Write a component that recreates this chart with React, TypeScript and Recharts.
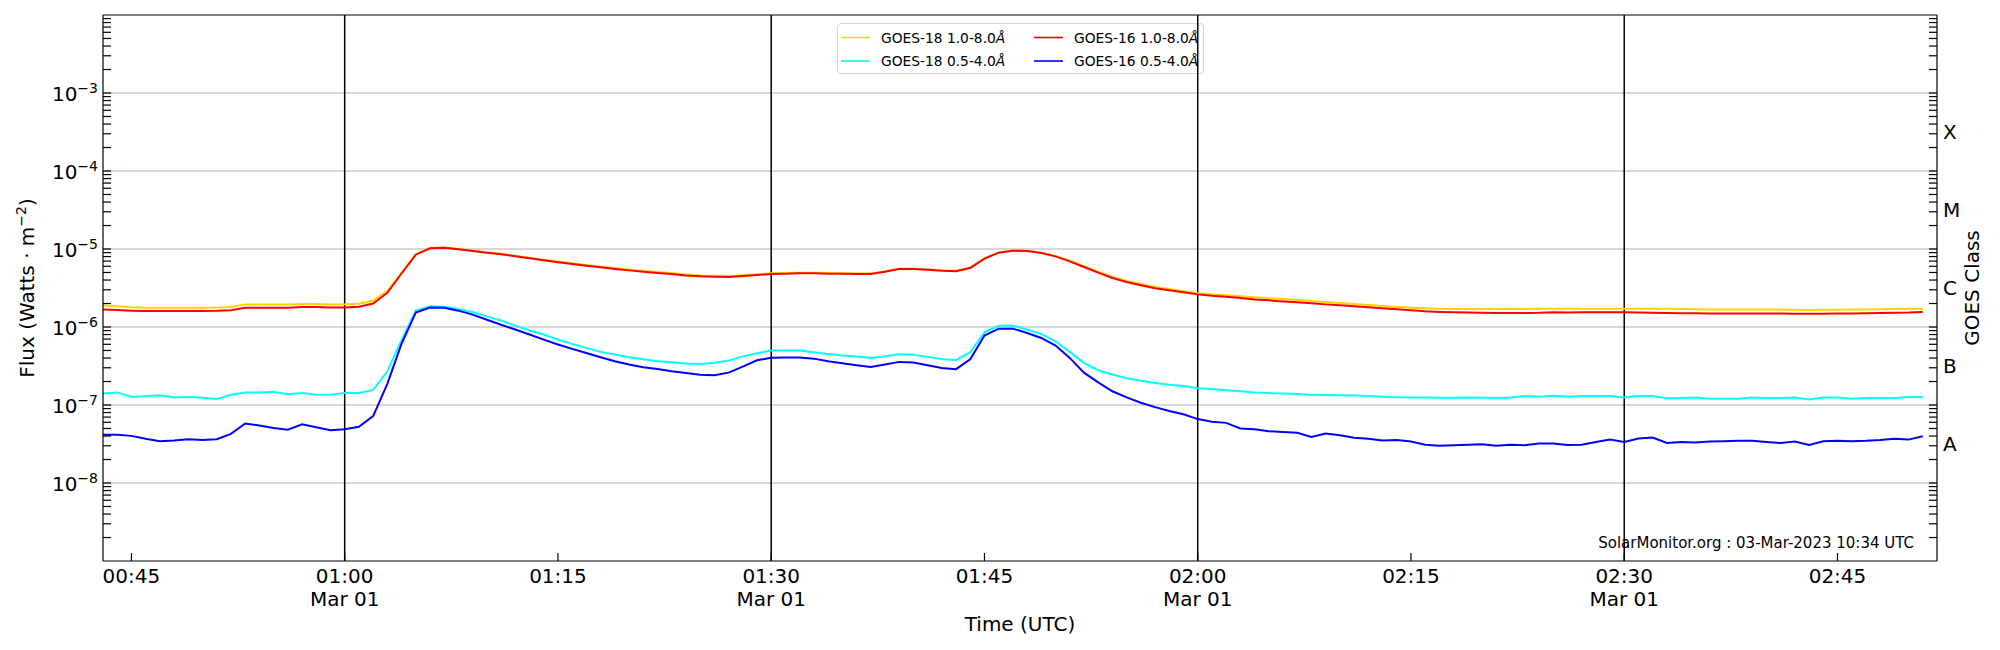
import React from 'react';
import { LineChart, Line, XAxis, YAxis, ReferenceLine, Legend } from 'recharts';

// one sample per minute, first sample at 00:43 UTC on Mar 01
const startMinute = 43;

const goes18Long = [
  1.88e-6, 1.85e-6, 1.79e-6, 1.77e-6, 1.77e-6, 1.77e-6, 1.77e-6, 1.77e-6, 1.78e-6, 1.81e-6,
  1.95e-6, 1.95e-6, 1.95e-6, 1.94e-6, 1.97e-6, 1.97e-6, 1.95e-6, 1.96e-6, 1.99e-6, 2.18e-6,
  2.9e-6, 4.95e-6, 8.55e-6, 1.03e-5, 1.05e-5, 1.0e-5, 9.55e-6, 9.1e-6, 8.7e-6, 8.2e-6,
  7.75e-6, 7.3e-6, 6.9e-6, 6.57e-6, 6.25e-6, 5.97e-6, 5.7e-6, 5.47e-6, 5.26e-6, 5.06e-6,
  4.91e-6, 4.72e-6, 4.58e-6, 4.53e-6, 4.5e-6, 4.6e-6, 4.74e-6, 4.88e-6, 4.93e-6, 4.97e-6,
  4.97e-6, 4.92e-6, 4.89e-6, 4.87e-6, 4.87e-6, 5.2e-6, 5.62e-6, 5.62e-6, 5.52e-6, 5.36e-6,
  5.26e-6, 5.8e-6, 7.6e-6, 9.05e-6, 9.6e-6, 9.5e-6, 8.98e-6, 8.17e-6, 7.08e-6, 6.02e-6,
  5.12e-6, 4.4e-6, 3.9e-6, 3.55e-6, 3.26e-6, 3.07e-6, 2.87e-6, 2.7e-6, 2.62e-6, 2.55e-6,
  2.47e-6, 2.4e-6, 2.33e-6, 2.29e-6, 2.22e-6, 2.16e-6, 2.09e-6, 2.03e-6, 1.97e-6, 1.91e-6,
  1.86e-6, 1.81e-6, 1.77e-6, 1.74e-6, 1.72e-6, 1.7e-6, 1.7e-6, 1.7e-6, 1.7e-6, 1.7e-6,
  1.7e-6, 1.71e-6, 1.71e-6, 1.72e-6, 1.72e-6, 1.72e-6, 1.72e-6, 1.72e-6, 1.72e-6, 1.72e-6,
  1.71e-6, 1.7e-6, 1.69e-6, 1.68e-6, 1.68e-6, 1.68e-6, 1.68e-6, 1.68e-6, 1.67e-6, 1.66e-6,
  1.65e-6, 1.66e-6, 1.67e-6, 1.68e-6, 1.68e-6, 1.69e-6, 1.7e-6, 1.71e-6, 1.72e-6,
];

const goes18Short = [
  1.4e-7, 1.45e-7, 1.27e-7, 1.3e-7, 1.33e-7, 1.25e-7, 1.27e-7, 1.24e-7, 1.19e-7, 1.35e-7,
  1.45e-7, 1.45e-7, 1.48e-7, 1.37e-7, 1.43e-7, 1.35e-7, 1.35e-7, 1.43e-7, 1.43e-7, 1.56e-7,
  2.7e-7, 6.8e-7, 1.62e-6, 1.85e-6, 1.82e-6, 1.7e-6, 1.55e-6, 1.37e-6, 1.21e-6, 1.04e-6,
  9.0e-7, 8.0e-7, 6.9e-7, 6.07e-7, 5.4e-7, 4.8e-7, 4.43e-7, 4.1e-7, 3.86e-7, 3.64e-7,
  3.53e-7, 3.4e-7, 3.36e-7, 3.47e-7, 3.71e-7, 4.2e-7, 4.61e-7, 4.99e-7, 4.99e-7, 4.99e-7,
  4.75e-7, 4.52e-7, 4.3e-7, 4.18e-7, 4.02e-7, 4.22e-7, 4.48e-7, 4.4e-7, 4.14e-7, 3.9e-7,
  3.75e-7, 4.75e-7, 8.55e-7, 1.04e-6, 1.04e-6, 9.27e-7, 8.15e-7, 6.56e-7, 4.8e-7, 3.47e-7,
  2.79e-7, 2.46e-7, 2.2e-7, 2.05e-7, 1.92e-7, 1.82e-7, 1.75e-7, 1.64e-7, 1.6e-7, 1.55e-7,
  1.5e-7, 1.45e-7, 1.42e-7, 1.4e-7, 1.38e-7, 1.35e-7, 1.34e-7, 1.33e-7, 1.32e-7, 1.3e-7,
  1.28e-7, 1.26e-7, 1.25e-7, 1.25e-7, 1.24e-7, 1.24e-7, 1.25e-7, 1.24e-7, 1.23e-7, 1.25e-7,
  1.3e-7, 1.28e-7, 1.31e-7, 1.28e-7, 1.3e-7, 1.3e-7, 1.3e-7, 1.25e-7, 1.3e-7, 1.3e-7,
  1.22e-7, 1.23e-7, 1.25e-7, 1.2e-7, 1.2e-7, 1.2e-7, 1.25e-7, 1.23e-7, 1.23e-7, 1.25e-7,
  1.18e-7, 1.25e-7, 1.25e-7, 1.2e-7, 1.23e-7, 1.23e-7, 1.23e-7, 1.27e-7, 1.27e-7,
];

const goes16Long = [
  1.68e-6, 1.65e-6, 1.62e-6, 1.6e-6, 1.6e-6, 1.6e-6, 1.6e-6, 1.6e-6, 1.61e-6, 1.64e-6,
  1.77e-6, 1.77e-6, 1.76e-6, 1.76e-6, 1.8e-6, 1.8e-6, 1.78e-6, 1.78e-6, 1.82e-6, 2.0e-6,
  2.75e-6, 4.85e-6, 8.45e-6, 1.02e-5, 1.04e-5, 9.9e-6, 9.4e-6, 8.97e-6, 8.54e-6, 8.05e-6,
  7.59e-6, 7.15e-6, 6.74e-6, 6.41e-6, 6.1e-6, 5.82e-6, 5.54e-6, 5.32e-6, 5.12e-6, 4.92e-6,
  4.78e-6, 4.59e-6, 4.46e-6, 4.42e-6, 4.38e-6, 4.5e-6, 4.64e-6, 4.78e-6, 4.83e-6, 4.88e-6,
  4.88e-6, 4.83e-6, 4.8e-6, 4.78e-6, 4.78e-6, 5.12e-6, 5.54e-6, 5.54e-6, 5.43e-6, 5.27e-6,
  5.17e-6, 5.71e-6, 7.51e-6, 8.97e-6, 9.51e-6, 9.41e-6, 8.88e-6, 8.05e-6, 6.95e-6, 5.88e-6,
  4.97e-6, 4.25e-6, 3.77e-6, 3.42e-6, 3.13e-6, 2.95e-6, 2.78e-6, 2.62e-6, 2.52e-6, 2.45e-6,
  2.35e-6, 2.26e-6, 2.2e-6, 2.13e-6, 2.07e-6, 2.01e-6, 1.95e-6, 1.9e-6, 1.84e-6, 1.79e-6,
  1.74e-6, 1.69e-6, 1.64e-6, 1.59e-6, 1.56e-6, 1.54e-6, 1.53e-6, 1.52e-6, 1.51e-6, 1.51e-6,
  1.51e-6, 1.52e-6, 1.55e-6, 1.53e-6, 1.55e-6, 1.55e-6, 1.55e-6, 1.54e-6, 1.53e-6, 1.52e-6,
  1.51e-6, 1.5e-6, 1.5e-6, 1.49e-6, 1.49e-6, 1.49e-6, 1.49e-6, 1.49e-6, 1.49e-6, 1.48e-6,
  1.48e-6, 1.48e-6, 1.49e-6, 1.49e-6, 1.5e-6, 1.51e-6, 1.52e-6, 1.53e-6, 1.56e-6,
];

const goes16Short = [
  4.17e-8, 4.17e-8, 4.02e-8, 3.69e-8, 3.43e-8, 3.51e-8, 3.64e-8, 3.56e-8, 3.64e-8, 4.27e-8,
  5.8e-8, 5.45e-8, 5.06e-8, 4.82e-8, 5.66e-8, 5.2e-8, 4.76e-8, 4.89e-8, 5.26e-8, 7.21e-8,
  1.87e-7, 6.1e-7, 1.53e-6, 1.78e-6, 1.76e-6, 1.62e-6, 1.44e-6, 1.24e-6, 1.07e-6, 9.27e-7,
  8.0e-7, 6.9e-7, 5.96e-7, 5.24e-7, 4.65e-7, 4.1e-7, 3.64e-7, 3.3e-7, 3.05e-7, 2.9e-7,
  2.71e-7, 2.58e-7, 2.45e-7, 2.4e-7, 2.6e-7, 3.1e-7, 3.75e-7, 4.02e-7, 4.06e-7, 4.06e-7,
  3.93e-7, 3.64e-7, 3.43e-7, 3.24e-7, 3.08e-7, 3.3e-7, 3.57e-7, 3.5e-7, 3.24e-7, 2.99e-7,
  2.88e-7, 3.86e-7, 7.76e-7, 9.53e-7, 9.53e-7, 8.39e-7, 7.24e-7, 5.78e-7, 4.02e-7, 2.6e-7,
  1.95e-7, 1.5e-7, 1.25e-7, 1.07e-7, 9.4e-8, 8.4e-8, 7.6e-8, 6.6e-8, 6.1e-8, 5.9e-8,
  5.0e-8, 4.9e-8, 4.6e-8, 4.5e-8, 4.4e-8, 3.9e-8, 4.3e-8, 4.1e-8, 3.8e-8, 3.7e-8,
  3.5e-8, 3.55e-8, 3.4e-8, 3.1e-8, 3.0e-8, 3.05e-8, 3.1e-8, 3.15e-8, 3.0e-8, 3.1e-8,
  3.05e-8, 3.2e-8, 3.22e-8, 3.07e-8, 3.1e-8, 3.35e-8, 3.6e-8, 3.35e-8, 3.73e-8, 3.82e-8,
  3.26e-8, 3.35e-8, 3.3e-8, 3.4e-8, 3.43e-8, 3.47e-8, 3.47e-8, 3.35e-8, 3.26e-8, 3.4e-8,
  3.07e-8, 3.43e-8, 3.47e-8, 3.43e-8, 3.47e-8, 3.55e-8, 3.69e-8, 3.6e-8, 3.97e-8,
];

const timeTicks = [45, 60, 75, 90, 105, 120, 135, 150, 165];
const dateLines = [60, 90, 120, 150];
const dateLabel = 'Mar 01';
const fluxDecades = [1e-8, 1e-7, 1e-6, 1e-5, 1e-4, 1e-3];
const goesClasses = ['A', 'B', 'C', 'M', 'X'];
const stamp = 'SolarMonitor.org : 03-Mar-2023 10:34 UTC';

const series = [
  { key: 'g18long', sat: 'GOES-18', band: '1.0-8.0', color: '#ffd200' },
  { key: 'g18short', sat: 'GOES-18', band: '0.5-4.0', color: '#00ffff' },
  { key: 'g16long', sat: 'GOES-16', band: '1.0-8.0', color: '#ff0000' },
  { key: 'g16short', sat: 'GOES-16', band: '0.5-4.0', color: '#0000ff' },
];

const data = goes18Long.map((v, i) => ({
  t: startMinute + i,
  g18long: v,
  g18short: goes18Short[i],
  g16long: goes16Long[i],
  g16short: goes16Short[i],
}));

// log minor ticks 2..9 in every decade
const minorTicks: number[] = [];
for (let e = -9; e <= -3; e++) {
  for (let m = 2; m <= 9; m++) minorTicks.push(m * Math.pow(10, e));
}
const yTicks = [...fluxDecades, ...minorTicks].sort((a, b) => a - b);

const FONT = 'DejaVu Sans';
const TICK_LEN = 8;

const hhmm = (m: number) =>
  `${String(Math.floor(m / 60)).padStart(2, '0')}:${String(m % 60).padStart(2, '0')}`;

// ticks point into the plot, so the tick marks are drawn here next to the labels
const TimeTick = ({ x, y, payload }: any) => (
  <g>
    <line x1={x} x2={x} y1={y - TICK_LEN} y2={y} stroke="#000" strokeWidth={1.2} />
    <text x={x} y={y + 22} textAnchor="middle" fontSize={20} fill="#000" fontFamily={FONT}>
      {hhmm(payload.value)}
    </text>
    {dateLines.includes(payload.value) && (
      <text x={x} y={y + 45} textAnchor="middle" fontSize={20} fill="#000" fontFamily={FONT}>
        {dateLabel}
      </text>
    )}
  </g>
);

// label anchor sits 5px left of the axis line
const FluxTick = ({ x, y, payload }: any) => {
  const exp = Math.log10(payload.value);
  const major = Math.abs(exp - Math.round(exp)) < 1e-6;
  return (
    <g>
      <line x1={x + 5} x2={x + 5 + TICK_LEN} y1={y} y2={y} stroke="#000" strokeWidth={1.2} />
      {major && (
        <text x={x} y={y + 8} textAnchor="end" fontSize={20} fill="#000" fontFamily={FONT}>
          10
          <tspan dy={-8} fontSize={14}>
            {'\u2212' + Math.abs(Math.round(exp))}
          </tspan>
        </text>
      )}
    </g>
  );
};

// anchor sits at the inner end of the tick
const ClassTick = ({ x, y }: any) => (
  <line x1={x} x2={x + TICK_LEN} y1={y} y2={y} stroke="#000" strokeWidth={1.2} />
);

const FluxLabel = ({ viewBox }: any) => {
  const x = viewBox.x + 26;
  const y = viewBox.y + viewBox.height / 2;
  return (
    <text
      x={x}
      y={y}
      transform={`rotate(-90 ${x} ${y})`}
      textAnchor="middle"
      fontSize={20}
      fill="#000"
      fontFamily={FONT}
    >
      Flux (Watts · m
      <tspan dy={-8} fontSize={14}>
        {'\u22122'}
      </tspan>
      <tspan dy={8}>)</tspan>
    </text>
  );
};

const ClassAxisLabel = ({ viewBox }: any) => {
  const x = viewBox.x + 42;
  const y = viewBox.y + viewBox.height / 2;
  return (
    <text
      x={x}
      y={y}
      transform={`rotate(-90 ${x} ${y})`}
      textAnchor="middle"
      fontSize={20}
      fill="#000"
      fontFamily={FONT}
    >
      GOES Class
    </text>
  );
};

const StampLabel = ({ viewBox }: any) => (
  <text
    x={viewBox.x + viewBox.width - 23}
    y={viewBox.y - 13}
    textAnchor="end"
    fontSize={15}
    fill="#000"
    fontFamily={FONT}
  >
    {stamp}
  </text>
);

const LegendBox = () => (
  <svg width={365} height={49} style={{ display: 'block' }}>
    {series.map((s, i) => {
      const x0 = i < 2 ? 3 : 196;
      const cy = i % 2 === 0 ? 13.5 : 37;
      return (
        <g key={s.key}>
          <line x1={x0} x2={x0 + 29} y1={cy} y2={cy} stroke={s.color} strokeWidth={1.6} />
          <text x={x0 + 40} y={cy + 5} fontSize={13.8} fill="#000" fontFamily={FONT}>
            {s.sat} {s.band}
            <tspan fontStyle="italic">Å</tspan>
          </text>
        </g>
      );
    })}
  </svg>
);

const axisStroke = { stroke: '#000', strokeWidth: 1.2 };

const App: React.FC = () => {
  return (
    <div style={{ fontFamily: FONT }}>
      <style>{'body { margin: 0; background: #fff; }'}</style>
      <LineChart
        width={2000}
        height={650}
        data={data}
        margin={{ top: 15, right: 8, bottom: 0, left: 8 }}
      >
        <XAxis
          dataKey="t"
          type="number"
          domain={[43, 172]}
          allowDataOverflow
          ticks={timeTicks}
          interval={0}
          height={89}
          tickSize={-8}
          tickMargin={8}
          tick={TimeTick}
          tickLine={false}
          axisLine={axisStroke}
          label={{ value: 'Time (UTC)', position: 'insideBottom', offset: 19, fontSize: 20, fill: '#000' }}
        />
        <YAxis
          scale="log"
          type="number"
          domain={[1e-9, 1e-2]}
          allowDataOverflow
          ticks={yTicks}
          interval={0}
          width={95}
          tickSize={-8}
          tickMargin={13}
          tick={FluxTick}
          tickLine={false}
          axisLine={axisStroke}
          label={(props: any) => <FluxLabel viewBox={props.viewBox} />}
        />
        <YAxis
          yAxisId="goes"
          orientation="right"
          scale="log"
          type="number"
          domain={[1e-9, 1e-2]}
          allowDataOverflow
          ticks={yTicks}
          interval={0}
          width={55}
          tickSize={-8}
          tickMargin={0}
          tick={ClassTick}
          tickLine={false}
          axisLine={axisStroke}
          label={(props: any) => <ClassAxisLabel viewBox={props.viewBox} />}
        />

        {fluxDecades.map((v) => (
          <ReferenceLine key={`g${v}`} y={v} stroke="#b0b0b0" strokeWidth={1} />
        ))}
        {dateLines.map((m) => (
          <ReferenceLine key={`d${m}`} x={m} stroke="#000" strokeWidth={1.5} />
        ))}
        <ReferenceLine y={1e-2} stroke="#000" strokeWidth={1.2} ifOverflow="visible" />
        <ReferenceLine
          y={1e-9}
          stroke="none"
          ifOverflow="visible"
          label={(props: any) => <StampLabel viewBox={props.viewBox} />}
        />
        {goesClasses.map((c, i) => (
          <ReferenceLine
            key={c}
            y={Math.pow(10, -7.5 + i)}
            stroke="none"
            ifOverflow="visible"
            label={{ value: c, position: 'right', offset: 6, fontSize: 20, fill: '#000' }}
          />
        ))}

        {series.map((s) => (
          <Line
            key={s.key}
            dataKey={s.key}
            type="linear"
            stroke={s.color}
            strokeWidth={2}
            dot={false}
            activeDot={false}
            isAnimationActive={false}
          />
        ))}

        <Legend
          verticalAlign="middle"
          align="center"
          layout="horizontal"
          content={() => <LegendBox />}
          wrapperStyle={{
            left: 837,
            top: 23,
            width: 367,
            height: 51,
            border: '1px solid #d4d4d4',
            borderRadius: 4,
            background: '#fff',
            boxSizing: 'border-box',
            zIndex: -1,
          }}
        />
      </LineChart>
    </div>
  );
};

export default App;
